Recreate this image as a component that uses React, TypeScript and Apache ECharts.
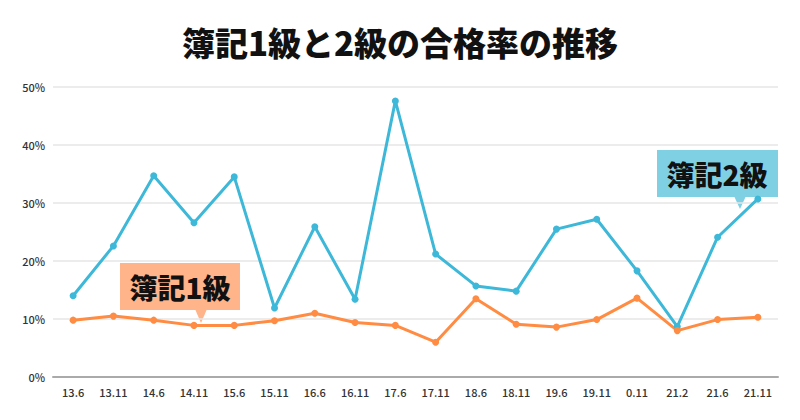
import React, { useEffect, useRef } from "react";
import * as echarts from "echarts";

const categories = ["13.6", "13.11", "14.6", "14.11", "15.6", "15.11", "16.6", "16.11", "17.6", "17.11", "18.6", "18.11", "19.6", "19.11", "0.11", "21.2", "21.6", "21.11"];
const level2 = [14.0, 22.6, 34.7, 26.6, 34.5, 11.9, 25.9, 13.4, 47.6, 21.2, 15.7, 14.8, 25.5, 27.2, 18.3, 8.7, 24.1, 30.7];
const level1 = [9.8, 10.5, 9.8, 8.9, 8.9, 9.7, 11.0, 9.4, 8.9, 6.0, 13.5, 9.1, 8.6, 9.9, 13.6, 8.0, 9.9, 10.3];

const BLUE = "#3db8d8";
const ORANGE = "#ff8c42";
const FONT = "'Noto Sans CJK JP', 'Noto Sans', sans-serif";

export default function App() {
  const ref = useRef<HTMLDivElement>(null);
  useEffect(() => {
    const chart = echarts.init(ref.current!, null, { renderer: "svg" });
    chart.setOption({
      animation: false,
      backgroundColor: "#ffffff",
      title: {
        text: "簿記1級と2級の合格率の推移",
        left: "center",
        top: 20,
        textStyle: { fontFamily: FONT, fontSize: 33, fontWeight: 900, color: "#111" },
      },
      grid: { left: 53, right: 22, top: 87, bottom: 43 },
      xAxis: {
        type: "category",
        data: categories,
        boundaryGap: true,
        axisLine: { lineStyle: { color: "#aaaaaa", width: 2 } },
        axisTick: { show: false },
        axisLabel: { fontFamily: FONT, fontSize: 11, fontWeight: 500, color: "#333", margin: 9 },
      },
      yAxis: {
        type: "value",
        min: 0,
        max: 50,
        interval: 10,
        axisLine: { show: false },
        axisTick: { show: false },
        axisLabel: { formatter: "{value}%", fontFamily: FONT, fontSize: 11, fontWeight: 500, color: "#333", margin: 8 },
        splitLine: { lineStyle: { color: "#e6e6e6", width: 1.5 } },
      },
      series: [
        {
          name: "簿記2級",
          type: "line",
          data: level2,
          symbol: "circle",
          symbolSize: 7,
          lineStyle: { color: BLUE, width: 3 },
          itemStyle: { color: BLUE },
        },
        {
          name: "簿記1級",
          type: "line",
          data: level1,
          symbol: "circle",
          symbolSize: 7,
          lineStyle: { color: ORANGE, width: 3 },
          itemStyle: { color: ORANGE },
        },
      ],
      graphic: [
        { type: "rect", shape: { x: 120, y: 263, width: 120, height: 47 }, style: { fill: "#ffb48a" } },
        { type: "polygon", shape: { points: [[195, 309], [207, 309], [201, 323]] }, style: { fill: "#ffb48a" } },
        {
          type: "text",
          x: 180,
          y: 287,
          style: { text: "簿記1級", fontFamily: FONT, fontSize: 28, fontWeight: 900, fill: "#111", align: "center", verticalAlign: "middle" },
        },
        { type: "rect", shape: { x: 657, y: 150, width: 121, height: 47 }, style: { fill: "#80d0e4" } },
        { type: "polygon", shape: { points: [[734, 196], [746, 196], [740, 209]] }, style: { fill: "#80d0e4" } },
        {
          type: "text",
          x: 717,
          y: 174,
          style: { text: "簿記2級", fontFamily: FONT, fontSize: 28, fontWeight: 900, fill: "#111", align: "center", verticalAlign: "middle" },
        },
      ],
    });
    return () => chart.dispose();
  }, []);
  return <div ref={ref} style={{ width: 800, height: 420, margin: -8 }} />;
}
